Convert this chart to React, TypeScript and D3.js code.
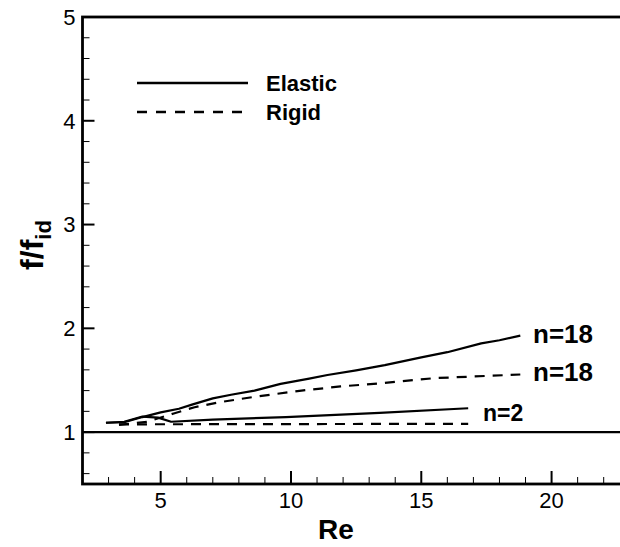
import React from "react";
import * as d3 from "d3";

const elasticN18X = [2.9, 3.6, 4.3, 5.0, 5.7, 6.2, 7.0, 7.7, 8.6, 9.6, 10.7, 11.4, 12.5, 13.6, 15.0, 16.0, 17.3, 18.0, 18.8];
const elasticN18Y = [1.09, 1.095, 1.145, 1.19, 1.225, 1.265, 1.325, 1.36, 1.40, 1.465, 1.515, 1.55, 1.595, 1.645, 1.72, 1.77, 1.855, 1.885, 1.93];
const elasticN2X = [2.9, 3.6, 4.3, 4.9, 5.4, 7.0, 9.8, 13.4, 16.8];
const elasticN2Y = [1.09, 1.10, 1.15, 1.14, 1.10, 1.12, 1.145, 1.185, 1.23];
const rigidN18X = [3.4, 4.5, 5.5, 6.3, 7.3, 8.6, 10.4, 11.9, 13.4, 15.5, 18.8];
const rigidN18Y = [1.07, 1.10, 1.18, 1.24, 1.29, 1.34, 1.40, 1.44, 1.47, 1.52, 1.555];
const rigidN2X = [3.4, 16.8];
const rigidN2Y = [1.075, 1.08];

const xMajorTicks = [5, 10, 15, 20];
const yMajorTicks = [1, 2, 3, 4, 5];
const legendItems = ["Elastic", "Rigid"];
const curveLabels = ["n=18", "n=18", "n=2"];

const W = 620, H = 547;
const FONT = "'Liberation Sans', Arial, Helvetica, sans-serif";

export default function App() {
  const x = d3.scaleLinear().domain([2, 23]).range([82.5, 82.5 + 21 * 26.06]);
  const y = d3.scaleLinear().domain([0.5, 5]).range([484, 17]);
  const line = d3.line<[number, number]>().x(d => x(d[0])).y(d => y(d[1]));
  const zip = (xs: number[], ys: number[]) => xs.map((v, i) => [v, ys[i]] as [number, number]);

  const xMinor = d3.range(3, 23, 1).filter(v => !xMajorTicks.includes(v));
  const yMinor = d3.range(0.6, 5, 0.2).map(v => +v.toFixed(1)).filter(v => !yMajorTicks.includes(v));

  const x0 = x(2), yb = y(0.5), yt = y(5), xr = x(23);

  const series = [
    { d: zip(elasticN18X, elasticN18Y), dash: null },
    { d: zip(elasticN2X, elasticN2Y), dash: null },
    { d: zip(rigidN18X, rigidN18Y), dash: "10,8" },
    { d: zip(rigidN2X, rigidN2Y), dash: "10,8" },
  ];

  return (
    <svg width={W} height={H} style={{ position: "absolute", left: 0, top: 0, background: "#fff" }} fontFamily={FONT}>
      <rect x={0} y={0} width={W} height={H} fill="#fff" />
      <line x1={x0} x2={W} y1={y(1)} y2={y(1)} stroke="#000" strokeWidth={2.2} />
      {series.map((s, i) => (
        <path key={i} d={line(s.d) || ""} fill="none" stroke="#000" strokeWidth={2.2}
          strokeDasharray={s.dash || undefined} strokeLinejoin="round" />
      ))}
      {yMajorTicks.map(v => (
        <line key={"ym" + v} x1={x0} x2={x0 + 12} y1={y(v)} y2={y(v)} stroke="#000" strokeWidth={2} />
      ))}
      {yMinor.map(v => (
        <line key={"yn" + v} x1={x0} x2={x0 + 7} y1={y(v)} y2={y(v)} stroke="#000" strokeWidth={1} />
      ))}
      {xMajorTicks.map(v => (
        <line key={"xm" + v} x1={x(v)} x2={x(v)} y1={yb} y2={yb - 13} stroke="#000" strokeWidth={2} />
      ))}
      {xMinor.map(v => (
        <line key={"xn" + v} x1={x(v)} x2={x(v)} y1={yb} y2={yb - 7} stroke="#000" strokeWidth={1} />
      ))}
      <rect x={x0} y={yt} width={xr - x0} height={yb - yt} fill="none" stroke="#000" strokeWidth={2.8} />
      {yMajorTicks.map(v => (
        <text key={"yl" + v} x={x0 - 7} y={y(v)} dy="0.36em" textAnchor="end" fontSize={22}>{v}</text>
      ))}
      {xMajorTicks.map(v => (
        <text key={"xl" + v} x={x(v)} y={yb + 24} textAnchor="middle" fontSize={22}>{v}</text>
      ))}
      <text x={336} y={539} textAnchor="middle" fontSize={28} fontWeight="bold">Re</text>
      <text transform={`translate(43,245) rotate(-90)`} textAnchor="middle" fontSize={32} fontWeight="bold">
        f/f<tspan fontSize={22} dy={8}>id</tspan>
      </text>
      {legendItems.map((t, i) => (
        <g key={t}>
          <line x1={137} x2={248} y1={83 + i * 29} y2={83 + i * 29} stroke="#000" strokeWidth={2.4}
            strokeDasharray={i === 1 ? "10,9" : undefined} />
          <text x={266} y={83 + i * 29} dy="0.36em" fontSize={22} fontWeight="bold">{t}</text>
        </g>
      ))}
      <text x={533} y={334} dy="0.36em" fontSize={26} fontWeight="bold">{curveLabels[0]}</text>
      <text x={533} y={372} dy="0.36em" fontSize={26} fontWeight="bold">{curveLabels[1]}</text>
      <text x={483} y={413} dy="0.36em" fontSize={23} fontWeight="bold">{curveLabels[2]}</text>
    </svg>
  );
}
